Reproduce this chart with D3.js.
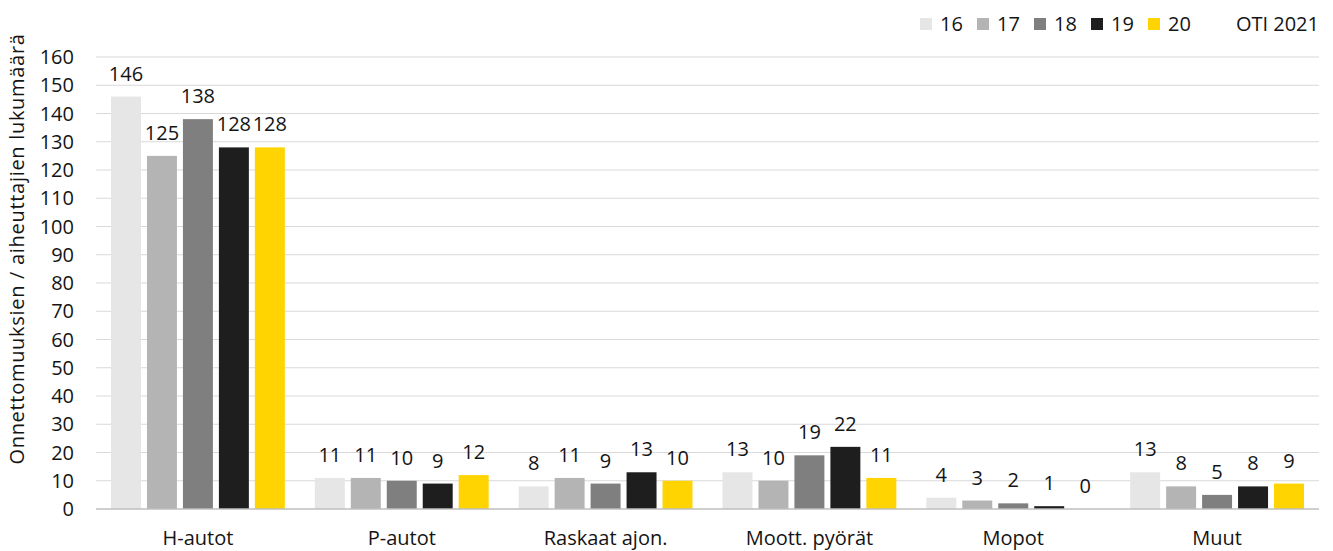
<!DOCTYPE html>
<html>
<head>
<meta charset="utf-8">
<script src="https://cdn.jsdelivr.net/npm/d3@7"></script>
<style>
  body { margin: 0; background: #fff; }
  svg text { font-family: "Open Sans", sans-serif; fill: #141414; font-size: 20px; }
</style>
</head>
<body>
<svg id="chart" width="1333" height="551"></svg>
<script>
const categories = ["H-autot", "P-autot", "Raskaat ajon.", "Moott. pyörät", "Mopot", "Muut"];
const years = ["16", "17", "18", "19", "20"];
const values16 = [146, 11, 8, 13, 4, 13];
const values17 = [125, 11, 11, 10, 3, 8];
const values18 = [138, 10, 9, 19, 2, 5];
const values19 = [128, 9, 13, 22, 1, 8];
const values20 = [128, 12, 10, 11, 0, 9];
const yTicks = d3.range(0, 161, 10);
const yTitle = "Onnettomuuksien / aiheuttajien lukumäärä";
const source = "OTI 2021";

const series = [values16, values17, values18, values19, values20];
const colors = ["#e6e6e6", "#b4b4b4", "#7f7f7f", "#1e1e1e", "#ffd400"];

const svg = d3.select("#chart");
const plotLeft = 96, plotRight = 1319, plotTop = 57, plotBottom = 509;

const x = d3.scaleBand().domain(categories).range([plotLeft, plotRight]);
const xInner = d3.scaleBand()
  .domain(years)
  .range([15, x.bandwidth() - 15])
  .paddingInner(6 / 36);
const y = d3.scaleLinear().domain([0, 160]).range([plotBottom, plotTop]);

// gridlines
svg.append("g")
  .selectAll("line")
  .data(yTicks.filter((d) => d > 0))
  .join("line")
  .attr("x1", plotLeft)
  .attr("x2", plotRight)
  .attr("y1", (d) => y(d))
  .attr("y2", (d) => y(d))
  .attr("stroke", "#d9d9d9")
  .attr("stroke-width", 1);

// y tick labels
svg.append("g")
  .selectAll("text")
  .data(yTicks)
  .join("text")
  .attr("x", 74)
  .attr("y", (d) => y(d))
  .attr("dy", "0.36em")
  .attr("text-anchor", "end")
  .text((d) => d);

// bars + labels
const groups = svg.append("g")
  .selectAll("g")
  .data(categories)
  .join("g")
  .attr("transform", (d) => `translate(${x(d)},0)`);

groups.selectAll("rect")
  .data((d, i) => years.map((yr, j) => ({ yr, j, v: series[j][i] })))
  .join("rect")
  .attr("x", (d) => xInner(d.yr))
  .attr("width", xInner.bandwidth())
  .attr("y", (d) => y(d.v))
  .attr("height", (d) => plotBottom - y(d.v))
  .attr("fill", (d) => colors[d.j]);

groups.selectAll("text")
  .data((d, i) => years.map((yr, j) => ({ yr, j, v: series[j][i] })))
  .join("text")
  .attr("x", (d) => xInner(d.yr) + xInner.bandwidth() / 2)
  .attr("y", (d) => y(d.v) - 16)
  .attr("text-anchor", "middle")
  .text((d) => d.v);

// x axis line
svg.append("line")
  .attr("x1", plotLeft)
  .attr("x2", plotRight)
  .attr("y1", plotBottom)
  .attr("y2", plotBottom)
  .attr("stroke", "#bfbfbf")
  .attr("stroke-width", 1.5);

// category labels
svg.append("g")
  .selectAll("text")
  .data(categories)
  .join("text")
  .attr("x", (d) => x(d) + x.bandwidth() / 2)
  .attr("y", 545)
  .attr("text-anchor", "middle")
  .text((d) => d);

// y title
svg.append("text")
  .attr("transform", "translate(24,249) rotate(-90)")
  .attr("text-anchor", "middle")
  .style("letter-spacing", "0.7px")
  .text(yTitle);

// legend
const legend = svg.append("g")
  .selectAll("g")
  .data(years)
  .join("g")
  .attr("transform", (d, i) => `translate(${920 + i * 57},0)`);

legend.append("rect")
  .attr("y", 18)
  .attr("width", 12)
  .attr("height", 12)
  .attr("fill", (d, i) => colors[i]);

legend.append("text")
  .attr("x", 20)
  .attr("y", 31)
  .text((d) => d);

svg.append("text")
  .attr("x", plotRight)
  .attr("y", 31)
  .attr("text-anchor", "end")
  .text(source);
</script>
</body>
</html>
